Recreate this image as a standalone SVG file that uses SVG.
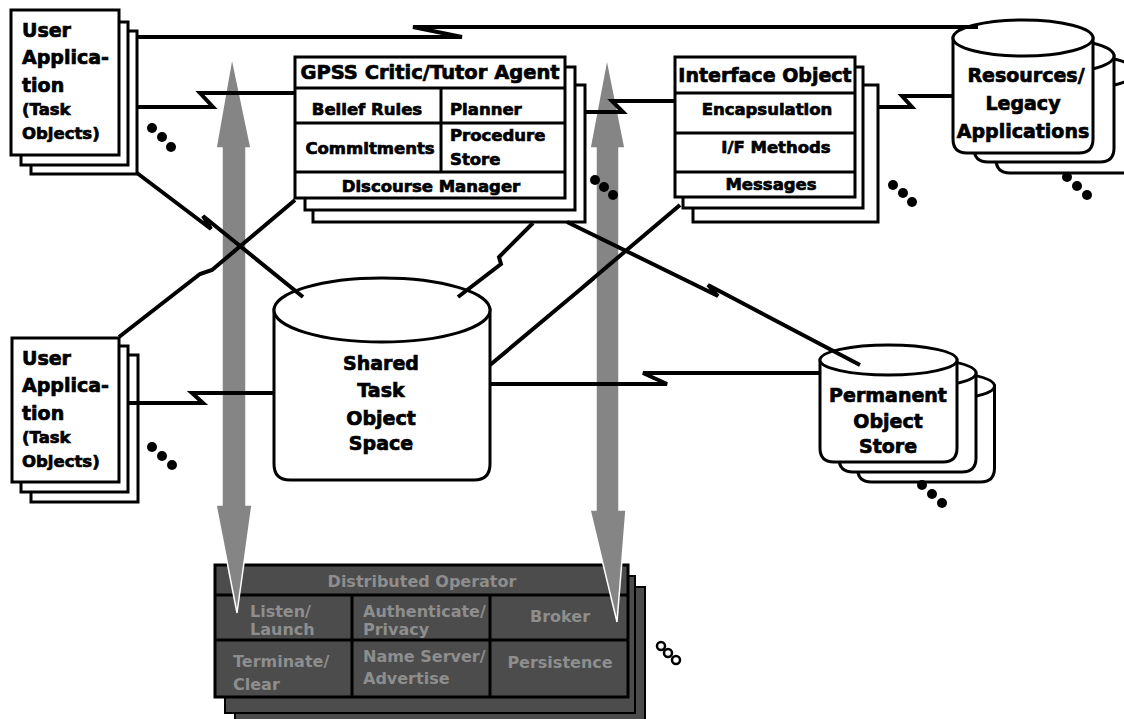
<svg xmlns="http://www.w3.org/2000/svg" width="1124" height="719" viewBox="0 0 1124 719">
<style>
.pg{fill:#fff;stroke:#000;stroke-width:3}
.cy{fill:#fff;stroke:#000;stroke-width:3}
.ln{fill:none;stroke:#000;stroke-width:4;stroke-linejoin:miter}
.dv{stroke:#000;stroke-width:3}
.t{font-family:"DejaVu Sans","Liberation Sans",sans-serif;font-weight:bold;fill:#000;stroke:#000;stroke-width:0.7}
.t19{font-size:19px}
.t17{font-size:16.5px}
.dt{font-family:"DejaVu Sans","Liberation Sans",sans-serif;font-weight:bold;font-size:16px;fill:#8e8e8e}
.dot{fill:#000}
.box{fill:#4c4c4c;stroke:#000}
.arr{fill:#858585;stroke:#fff;stroke-width:1.5}
</style>
<rect width="1124" height="719" fill="#fff"/>

<g id="distributed-operator">
<rect class="box" x="235" y="587" width="410" height="140" stroke-width="2"/>
<rect class="box" x="225" y="576" width="410" height="137" stroke-width="2"/>
<rect class="box" x="215" y="565" width="413" height="132" stroke-width="3"/>
<line class="dv" x1="215" y1="595" x2="628" y2="595"/>
<line class="dv" x1="215" y1="640" x2="628" y2="640"/>
<line class="dv" x1="352" y1="595" x2="352" y2="697"/>
<line class="dv" x1="490" y1="595" x2="490" y2="697"/>
<text class="dt" x="422" y="587" text-anchor="middle" font-size="18">Distributed Operator</text>
<text class="dt" x="250" y="617">Listen/</text>
<text class="dt" x="250" y="635">Launch</text>
<text class="dt" x="363" y="617">Authenticate/</text>
<text class="dt" x="363" y="635">Privacy</text>
<text class="dt" x="560" y="622" text-anchor="middle">Broker</text>
<text class="dt" x="233" y="667">Terminate/</text>
<text class="dt" x="233" y="690">Clear</text>
<text class="dt" x="363" y="662">Name Server/</text>
<text class="dt" x="363" y="684">Advertise</text>
<text class="dt" x="560" y="668" text-anchor="middle">Persistence</text>
<circle cx="661" cy="646" r="4" fill="#fff" stroke="#000" stroke-width="2.5"/>
<circle cx="668" cy="653" r="4" fill="#fff" stroke="#000" stroke-width="2.5"/>
<circle cx="676" cy="660" r="4" fill="#fff" stroke="#000" stroke-width="2.5"/>
</g>

<g id="shaded-arrows">
<polygon class="arr" points="232,57 251,148 246,148 246,505 252,505 237,613 216,505 222,505 222,148 216,148"/>
<polygon class="arr" points="607,58 625,148 619,148 619,510 626,510 617,622 590,510 596,510 596,148 590,148"/>
</g>

<g id="user-app-1">
<rect class="pg" x="31" y="31" width="106" height="143"/>
<rect class="pg" x="21" y="22" width="107" height="143"/>
<rect class="pg" x="11" y="10" width="108" height="145"/>
<text class="t t19" x="22" y="37">User</text>
<text class="t t19" x="22" y="64">Applica-</text>
<text class="t t19" x="22" y="92">tion</text>
<text class="t t17" x="22" y="115">(Task</text>
<text class="t t17" x="22" y="139">Objects)</text>
<circle class="dot" cx="152" cy="128" r="5"/><circle class="dot" cx="162" cy="137" r="5"/><circle class="dot" cx="171" cy="147" r="5"/>
</g>

<g id="user-app-2">
<rect class="pg" x="31" y="355" width="107" height="147"/>
<rect class="pg" x="21" y="346" width="107" height="146"/>
<rect class="pg" x="12" y="338" width="107" height="144"/>
<text class="t t19" x="22" y="365">User</text>
<text class="t t19" x="22" y="392">Applica-</text>
<text class="t t19" x="22" y="420">tion</text>
<text class="t t17" x="22" y="443">(Task</text>
<text class="t t17" x="22" y="467">Objects)</text>
<circle class="dot" cx="152" cy="447" r="5"/><circle class="dot" cx="162" cy="456" r="5"/><circle class="dot" cx="172" cy="465" r="5"/>
</g>

<g id="gpss-agent">
<rect class="pg" x="313" y="85" width="272" height="137"/>
<rect class="pg" x="305" y="67" width="270" height="143"/>
<rect class="pg" x="295" y="57" width="270" height="141"/>
<line class="dv" x1="295" y1="88" x2="565" y2="88"/>
<line class="dv" x1="295" y1="123" x2="565" y2="123"/>
<line class="dv" x1="295" y1="172" x2="565" y2="172"/>
<line class="dv" x1="441" y1="88" x2="441" y2="172"/>
<text class="t" x="430" y="79" text-anchor="middle" font-size="19.5">GPSS Critic/Tutor Agent</text>
<text class="t t17" x="367" y="115" text-anchor="middle">Belief Rules</text>
<text class="t t17" x="450" y="115">Planner</text>
<text class="t t17" x="370" y="154" text-anchor="middle">Commitments</text>
<text class="t t17" x="450" y="141">Procedure</text>
<text class="t t17" x="450" y="165">Store</text>
<text class="t t17" x="431" y="192" text-anchor="middle">Discourse Manager</text>
<circle class="dot" cx="595" cy="180" r="5"/><circle class="dot" cx="604" cy="187" r="5"/><circle class="dot" cx="613" cy="195" r="5"/>
</g>

<g id="interface-object">
<rect class="pg" x="693" y="85" width="185" height="137"/>
<rect class="pg" x="683" y="67" width="180" height="141"/>
<rect class="pg" x="675" y="57" width="180" height="140"/>
<line class="dv" x1="675" y1="93" x2="855" y2="93"/>
<line class="dv" x1="675" y1="133" x2="855" y2="133"/>
<line class="dv" x1="675" y1="172" x2="855" y2="172"/>
<text class="t" x="765" y="82" text-anchor="middle" font-size="19">Interface Object</text>
<text class="t t17" x="767" y="115" text-anchor="middle">Encapsulation</text>
<text class="t t17" x="776" y="153" text-anchor="middle">I/F Methods</text>
<text class="t t17" x="771" y="190" text-anchor="middle">Messages</text>
<circle class="dot" cx="893" cy="185" r="5"/><circle class="dot" cx="903" cy="193" r="5"/><circle class="dot" cx="912" cy="202" r="5"/>
</g>

<g id="resources">
<path class="cy" d="M996,72 V159 Q996,173 1010,173 H1122 Q1136,173 1136,159 V72 Z"/>
<ellipse class="cy" cx="1066" cy="72" rx="70" ry="18"/>
<path class="cy" d="M974,56 V148 Q974,162 988,162 H1100 Q1114,162 1114,148 V56 Z"/>
<ellipse class="cy" cx="1044" cy="56" rx="70" ry="18"/>
<path class="cy" d="M953,38 V139 Q953,153 967,153 H1079 Q1093,153 1093,139 V38 Z"/>
<ellipse class="cy" cx="1023" cy="38" rx="70" ry="18"/>
<text class="t t19" x="1026" y="82" text-anchor="middle">Resources/</text>
<text class="t t19" x="1023" y="110" text-anchor="middle">Legacy</text>
<text class="t t19" x="1023" y="138" text-anchor="middle">Applications</text>
<circle class="dot" cx="1067" cy="177" r="5"/><circle class="dot" cx="1077" cy="186" r="5"/><circle class="dot" cx="1087" cy="195" r="5"/>
</g>

<g id="shared-task-space">
<path class="cy" d="M274,310 V464 Q274,480 290,480 H474 Q490,480 490,464 V310 Z"/>
<ellipse class="cy" cx="382" cy="310" rx="108" ry="32"/>
<text class="t t19" x="381" y="370" text-anchor="middle">Shared</text>
<text class="t t19" x="381" y="397" text-anchor="middle">Task</text>
<text class="t t19" x="381" y="425" text-anchor="middle">Object</text>
<text class="t t19" x="381" y="450" text-anchor="middle">Space</text>
</g>

<g id="permanent-store">
<path class="cy" d="M857.5,386 V468 Q857.5,482 871.5,482 H980.5 Q994.5,482 994.5,468 V386 Z"/>
<ellipse class="cy" cx="926" cy="386" rx="68.5" ry="15"/>
<path class="cy" d="M839,373 V458 Q839,472 853,472 H962 Q976,472 976,458 V373 Z"/>
<ellipse class="cy" cx="907.5" cy="373" rx="68.5" ry="15"/>
<path class="cy" d="M820,360 V448 Q820,462 834,462 H943 Q957,462 957,448 V360 Z"/>
<ellipse class="cy" cx="888.5" cy="360" rx="68.5" ry="15"/>
<text class="t t19" x="888" y="402" text-anchor="middle">Permanent</text>
<text class="t t19" x="888" y="428" text-anchor="middle">Object</text>
<text class="t t19" x="888" y="453" text-anchor="middle">Store</text>
<circle class="dot" cx="922" cy="485" r="5"/><circle class="dot" cx="932" cy="494" r="5"/><circle class="dot" cx="942" cy="503" r="5"/>
</g>

<g id="connectors">
<path class="ln" d="M137,37 H462 L413,27 H978"/>
<path class="ln" d="M137,107 H213 L200,93 H295"/>
<path class="ln" d="M585,112 H623 L612,101 H675"/>
<path class="ln" d="M878,107 H912 L902,96 H953"/>
<path class="ln" d="M137,173 L211,229 L203,216 L303,297"/>
<path class="ln" d="M119,337 L200,274 L212,270 L295,200"/>
<path class="ln" d="M533,223 L499,257 L501,264 L458,297"/>
<path class="ln" d="M567,222 L718,296 L708,285 L860,365"/>
<path class="ln" d="M680,205 L583,287 L594,278 L490,365"/>
<path class="ln" d="M490,384 H667 L643,373 H820"/>
<path class="ln" d="M128,403 H203 L192,393 H274"/>
</g>
</svg>
